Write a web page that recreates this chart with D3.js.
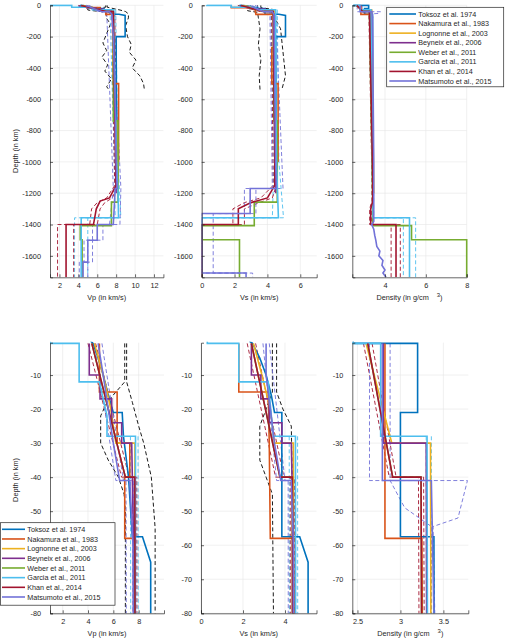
<!DOCTYPE html>
<html>
<head>
<meta charset="utf-8">
<script src="https://cdn.jsdelivr.net/npm/d3@7"></script>
<style>
body { margin: 0; background: #fff; }
svg { font-family: "Liberation Sans", Arial, sans-serif; }
</style>
</head>
<body>
<svg id="chart" width="505" height="639"></svg>
<script>
// model names + colours (legend order)
const modelNames = ["Toksoz et al. 1974", "Nakamura et al., 1983", "Lognonne et al., 2003", "Beyneix et al., 2006",
    "Weber et al., 2011", "Garcia et al., 2011", "Khan et al., 2014", "Matsumoto et al., 2015"];
const modelColors = ["#0072BD", "#D95319", "#EDB120", "#7E2F8E", "#77AC30", "#4DBEEE", "#A2142F", "#7272D8"];

// profiles as [depth (km), value]
const toksozVp = [[0,4.2],[0.7,4.4],[5,4.8],[10,5.2],[16,5.6],[21,6.0],[21,6.7],[28,6.8],[40,7.2],[57.5,7.5],[57.5,8.3],[65,8.95],[200,8.95],[200,8.0],[1000,8.05]];
const toksozVs = [[0,2.3],[0.7,2.45],[5,2.8],[10,3.1],[16,3.35],[21,3.5],[21,3.85],[57.5,3.85],[57.5,4.7],[65,5.1],[200,5.1],[200,4.5],[1000,4.55]];
const toksozRho = [[0,2.45],[0.7,2.45],[0.7,3.2],[21,3.2],[21,3.0],[57.5,3.0],[57.5,3.39],[1000,3.42]];

const nakamuraVp = [[0.7,4.9],[15,4.9],[15,6.3],[30,6.3],[30,7.3],[40,7.3],[40,6.9],[58,6.9],[58,7.7],[500,7.7],[500,8.26],[1000,8.26]];
const nakamuraVs = [[0.7,1.8],[15,1.8],[15,3.2],[30,3.25],[58,3.3],[58,4.4],[270,4.4],[270,4.27],[500,4.27],[500,4.65],[1000,4.65]];
const nakamuraRho = [[0.7,2.82],[58,2.82],[58,3.25],[500,3.35],[1000,3.42]];

const lognonneVp = [[0.7,4.5],[10,5.2],[20,5.8],[30,6.2],[30,7.7],[200,7.7],[500,7.75],[738,7.75],[738,8.1],[1200,8.2]];
const lognonneVs = [[0.7,2.5],[10,2.9],[20,3.3],[30,3.5],[30,4.4],[500,4.45],[738,4.45],[738,4.55],[1200,4.6]];
const lognonneRho = [[0.7,2.6],[30,2.9],[30,3.35],[1200,3.45]];

const beyneixVp = [[0.7,4.1],[10,4.1],[10,4.95],[17,4.95],[17,5.87],[24,5.87],[24,6.66],[30,6.66],[30,7.45],[60,7.6],[200,7.7],[500,7.85],[1200,8.0]];
const beyneixVs = [[0.7,2.4],[10,2.4],[10,2.85],[17,2.85],[17,3.25],[24,3.25],[24,3.85],[30,3.85],[30,4.3],[60,4.4],[500,4.45],[1200,4.5]];
const beyneixRho = [[0.7,2.8],[30,2.8],[30,3.3],[1200,3.42]];

const weberVp = [[0.7,4.3],[40,6.95],[40,7.7],[738,7.7],[738,8.2],[1257,8.2],[1257,7.5],[1407,7.5],[1407,4.2],[1497,4.2],[1497,4.4],[1737,4.4]];
const weberVs = [[0.7,2.4],[40,3.76],[40,4.35],[738,4.4],[738,4.6],[1257,4.6],[1257,3.2],[1407,3.2],[1407,0],[1497,0],[1497,2.3],[1737,2.3]];
const weberRho = [[0.7,2.62],[40,2.91],[40,3.24],[1257,3.4],[1407,3.4],[1407,5.3],[1497,5.3],[1497,8.0],[1737,8.0]];

const garciaVp = [[0,1.0],[0.7,1.0],[0.7,3.3],[12,3.3],[12,4.9],[22,5.5],[28,5.5],[28,7.75],[200,7.75],[500,7.85],[1000,8.05],[1200,8.2],[1357,8.25],[1357,4.3],[1737,4.3]];
const garciaVs = [[0,0.3],[0.7,0.3],[0.7,1.8],[12,1.8],[12,3.2],[22,3.35],[28,3.45],[28,4.5],[500,4.5],[1000,4.55],[1357,4.67],[1357,0],[1737,0]];
const garciaRho = [[0,2.45],[0.7,2.45],[0.7,2.77],[28,2.77],[28,3.31],[1357,3.42],[1357,5.2],[1737,5.2]];

const khanVp = [[0.7,4.3],[40,6.95],[40,7.7],[200,7.75],[500,7.8],[1000,7.95],[1150,8.0],[1230,7.3],[1250,6.3],[1300,5.9],[1400,5.6],[1400,2.7],[1737,2.7]];
const khanVs = [[0.7,2.4],[40,3.76],[40,4.35],[1000,4.45],[1150,4.45],[1230,4.0],[1260,3.0],[1300,2.23],[1400,2.23],[1400,0],[1737,0]];
const khanRho = [[0.7,2.62],[40,2.91],[40,3.24],[1100,3.4],[1250,3.4],[1300,3.3],[1400,3.3],[1400,4.54],[1737,4.54]];

const matsumotoVp = [[0.7,4.8],[10,5.2],[20,5.6],[30,6.0],[41,6.5],[41,7.3],[60,7.55],[200,7.7],[500,7.85],[1000,8.0],[1170,8.1],[1170,7.9],[1400,7.7],[1400,6.0],[1500,6.0],[1500,5.0],[1640,5.0],[1640,4.5],[1737,4.5]];
const matsumotoVs = [[0.7,3.1],[10,3.1],[20,3.3],[30,3.5],[41,3.8],[41,4.3],[60,4.4],[1000,4.5],[1170,4.55],[1170,2.95],[1330,2.95],[1330,0],[1710,0],[1710,2.7],[1737,2.7]];
const matsumotoRho = [[0.7,2.79],[41,2.79],[41,3.36],[80,3.39],[1000,3.45],[1380,3.45],[1400,3.35],[1430,3.45],[1470,3.5],[1500,3.55],[1540,3.6],[1570,3.75],[1600,3.7],[1630,3.9],[1660,3.85],[1690,4.0],[1710,3.9],[1737,4.05]];

// uncertainty bounds (dashed)
const boundsVpLo = [[0.7,6.9],[12,6.9],[18,5.5],[22,5.0],[30,5.0],[35,5.6],[40,6.4],[45,6.85],[50,6.95],[80,6.95],[120,7.4],[180,7.0],[240,6.6],[290,7.0],[330,6.5],[380,7.1],[420,6.8],[470,7.5],[520,7.0],[545,7.3]];
const boundsVpHi = [[0.7,7.05],[12,7.05],[18,7.5],[25,8.0],[30,8.4],[40,9.0],[55,9.3],[80,9.3],[130,9.0],[200,9.2],[250,9.6],[300,9.4],[350,10.1],[400,9.7],[450,10.5],[500,10.9],[545,11.0]];
const boundsVsLo = [[0.7,3.4],[15,3.4],[20,3.1],[25,2.8],[35,2.8],[40,3.1],[45,3.4],[80,3.45],[150,3.55],[250,3.45],[350,3.6],[450,3.5],[540,3.55]];
const boundsVsHi = [[0.7,3.6],[15,3.6],[20,3.9],[25,4.3],[80,4.45],[150,4.8],[250,4.9],[350,5.0],[450,5.1],[530,4.9]];

const khanVpLo = [[0.7,4.0],[40,6.65],[40,7.55],[1000,7.8],[1150,7.85],[1230,7.0],[1260,6.0],[1300,5.4],[1400,5.2],[1400,1.8],[1737,1.8]];
const khanVpHi = [[0.7,4.6],[40,7.25],[40,7.85],[1000,8.1],[1150,8.15],[1230,7.6],[1260,6.8],[1300,6.3],[1400,6.0],[1400,3.5],[1737,3.5]];
const khanVsLo = [[0.7,2.2],[40,3.55],[40,4.25],[1150,4.35],[1230,3.6],[1260,2.6],[1300,1.9],[1400,1.9],[1400,0],[1737,0]];
const khanVsHi = [[0.7,2.6],[40,3.95],[40,4.45],[1150,4.55],[1230,4.3],[1260,3.5],[1300,2.6],[1400,2.6],[1400,0],[1737,0]];
const khanRhoLo = [[0.7,2.57],[40,2.87],[40,3.21],[1100,3.36],[1250,3.36],[1300,3.25],[1400,3.25],[1400,4.3],[1737,4.3]];
const khanRhoHi = [[0.7,2.67],[40,2.95],[40,3.27],[1100,3.44],[1250,3.44],[1300,3.35],[1400,3.35],[1400,4.75],[1737,4.75]];

const garciaVpLo = [[28,7.35],[1000,7.8],[1357,7.9],[1357,3.6],[1737,3.6]];
const garciaVpHi = [[28,7.95],[1000,8.2],[1357,8.5],[1357,5.0],[1737,5.0]];
const garciaVsLo = [[28,4.2],[1000,4.4],[1357,4.3],[1357,0]];
const garciaVsHi = [[28,4.6],[1000,4.7],[1357,4.98],[1357,0]];
const garciaRhoLo = [[28,3.3],[1357,3.38],[1357,4.9],[1737,4.9]];
const garciaRhoHi = [[28,3.36],[1357,3.45],[1357,5.5],[1737,5.5]];

const matsumotoVpLo = [[0.7,4.5],[41,6.2],[41,7.0],[1170,7.7],[1400,7.3],[1400,5.5],[1500,5.5],[1500,4.6],[1640,4.6],[1640,4.1],[1737,4.1]];
const matsumotoVpHi = [[0.7,5.1],[41,6.8],[41,7.6],[1170,8.5],[1400,8.4],[1400,6.6],[1500,6.6],[1500,5.5],[1640,5.5],[1640,5.0],[1737,5.0]];
const matsumotoVsLo = [[0.7,2.95],[41,3.6],[41,4.15],[1170,4.3],[1170,2.6],[1330,2.6],[1330,0],[1710,0],[1710,2.3],[1737,2.3]];
const matsumotoVsHi = [[0.7,3.25],[41,4.0],[41,4.5],[1170,4.95],[1170,3.3],[1330,3.3],[1330,0.7],[1710,0.7],[1710,3.1],[1737,3.1]];
const matsumotoRhoA = [[0.7,2.64],[41,2.64],[41,3.78],[52,3.67],[54.5,3.38],[80,3.4]];
const matsumotoRhoB = [[0.7,2.88],[41,2.88],[49,3.05],[54.5,3.36],[80,3.36]];

// tick labels
const depthTicksFull = [0, -200, -400, -600, -800, -1000, -1200, -1400, -1600];
const depthTicksCrust = [-10, -20, -30, -40, -50, -60, -70, -80];
const vpTicksFull = [2, 4, 6, 8, 10, 12];
const vsTicksFull = [0, 2, 4, 6];
const rhoTicksFull = [4, 6, 8];
const vpTicksCrust = [2, 4, 6, 8];
const vsTicksCrust = [0, 2, 4];
const rhoTicksCrust = [2.5, 3, 3.5];

const models = [
    { vp: toksozVp, vs: toksozVs, rho: toksozRho },
    { vp: nakamuraVp, vs: nakamuraVs, rho: nakamuraRho },
    { vp: lognonneVp, vs: lognonneVs, rho: lognonneRho },
    { vp: beyneixVp, vs: beyneixVs, rho: beyneixRho },
    { vp: weberVp, vs: weberVs, rho: weberRho },
    { vp: garciaVp, vs: garciaVs, rho: garciaRho },
    { vp: khanVp, vs: khanVs, rho: khanRho },
    { vp: matsumotoVp, vs: matsumotoVs, rho: matsumotoRho }
].map((m, i) => ({ ...m, name: modelNames[i], color: modelColors[i] }));

const bounds = [
    { color: "#000", vp: [boundsVpLo, boundsVpHi], vs: [boundsVsLo, boundsVsHi], rho: [] },
    { color: modelColors[5], vp: [garciaVpLo, garciaVpHi], vs: [garciaVsLo, garciaVsHi], rho: [garciaRhoLo, garciaRhoHi] },
    { color: modelColors[6], vp: [khanVpLo, khanVpHi], vs: [khanVsLo, khanVsHi], rho: [khanRhoLo, khanRhoHi] },
    { color: modelColors[7], vp: [matsumotoVpLo, matsumotoVpHi], vs: [matsumotoVsLo, matsumotoVsHi], rho: [matsumotoRhoA, matsumotoRhoB] }
];

const textCol = "#262626";
const svg = d3.select("#chart");

const rows = [
    { y: [5.3, 277.3], depth: [-1737, 0], ticks: depthTicksFull, labelY: 151 },
    { y: [342.7, 613.3], depth: [-80, -0.5], ticks: depthTicksCrust, labelY: 480 }
];

// hideLabels: tick labels that sit under the legend box in the original
const panels = [
    { row: 0, key: "vp", x: [50, 163.4], dom: [1, 13], ticks: vpTicksFull, hideLabels: [] },
    { row: 0, key: "vs", x: [201.7, 316.7], dom: [0, 7], ticks: vsTicksFull, hideLabels: [] },
    { row: 0, key: "rho", x: [352.3, 466.7], dom: [2.4, 8], ticks: rhoTicksFull, hideLabels: [] },
    { row: 1, key: "vp", x: [50, 164], dom: [1, 10], ticks: vpTicksCrust, hideLabels: [-60, -70] },
    { row: 1, key: "vs", x: [201, 316.5], dom: [0, 5.5], ticks: vsTicksCrust, hideLabels: [] },
    { row: 1, key: "rho", x: [352.3, 468.3], dom: [2.44, 3.79], ticks: rhoTicksCrust, hideLabels: [] }
];

const defs = svg.append("defs");

panels.forEach((p, pi) => {
    const r = rows[p.row];
    const xScale = d3.scaleLinear().domain(p.dom).range(p.x);
    const yScale = d3.scaleLinear().domain(r.depth).range([r.y[1], r.y[0]]);
    const g = svg.append("g");

    // grid
    g.selectAll(".gx").data(p.ticks).join("line")
        .attr("x1", d => xScale(d)).attr("x2", d => xScale(d))
        .attr("y1", r.y[0]).attr("y2", r.y[1])
        .attr("stroke", "#e6e6e6").attr("stroke-width", 0.6);
    g.selectAll(".gy").data(r.ticks).join("line")
        .attr("x1", p.x[0]).attr("x2", p.x[1])
        .attr("y1", d => yScale(d)).attr("y2", d => yScale(d))
        .attr("stroke", "#e6e6e6").attr("stroke-width", 0.6);

    defs.append("clipPath").attr("id", "clip" + pi)
        .append("rect").attr("x", p.x[0]).attr("y", r.y[0] - 1)
        .attr("width", p.x[1] - p.x[0] + 1.5).attr("height", r.y[1] - r.y[0] + 1);

    const plot = g.append("g").attr("clip-path", `url(#clip${pi})`);
    const line = d3.line().x(d => xScale(d[1])).y(d => yScale(-d[0]));

    bounds.forEach(b => {
        b[p.key].forEach(arr => {
            plot.append("path").attr("d", line(arr))
                .attr("fill", "none").attr("stroke", b.color)
                .attr("stroke-width", 0.9).attr("stroke-dasharray", "4,2.5");
        });
    });

    models.forEach(m => {
        plot.append("path").attr("d", line(m[p.key]))
            .attr("fill", "none").attr("stroke", m.color)
            .attr("stroke-width", 1.6).attr("stroke-linejoin", "miter");
    });

    // axes
    const xAxis = d3.axisBottom(xScale).tickValues(p.ticks).tickSize(-3).tickPadding(6).tickFormat(d => String(d));
    const yAxis = d3.axisLeft(yScale).tickValues(r.ticks).tickSize(-3).tickPadding(9)
        .tickFormat(d => p.hideLabels.includes(d) ? "" : String(d));
    const ax = g.append("g").attr("transform", `translate(0,${r.y[1]})`).call(xAxis);
    const ay = g.append("g").attr("transform", `translate(${p.x[0]},0)`).call(yAxis);
    [ax, ay].forEach(a => {
        a.select(".domain").attr("stroke", textCol).attr("stroke-width", 0.7);
        a.selectAll(".tick line").attr("stroke", textCol).attr("stroke-width", 0.7);
        a.selectAll("text").attr("fill", textCol).style("font-size", "7.3px").style("font-family", "Liberation Sans, Arial, sans-serif");
    });
    ay.selectAll(".tick text").filter(function () { return this.textContent === ""; }).remove();

    // x label
    const cx = (p.x[0] + p.x[1]) / 2;
    const lab = g.append("text").attr("x", cx).attr("y", r.y[1] + 22.5)
        .attr("text-anchor", "middle").attr("fill", textCol).style("font-size", "7.3px");
    if (p.key === "vp") lab.text("Vp (in km/s)");
    else if (p.key === "vs") lab.text("Vs (in km/s)");
    else {
        lab.append("tspan").text("Density (in g/cm");
        lab.append("tspan").attr("dx", 8).attr("dy", -3).style("font-size", "6px").text("3");
        lab.append("tspan").attr("dy", 3).text(")");
    }

    if (p.key === "vp") {
        g.append("text").attr("transform", `translate(18,${r.labelY}) rotate(-90)`)
            .attr("text-anchor", "middle").attr("fill", textCol).style("font-size", "7.3px")
            .text("Depth (in km)");
    }
});

// legends
const drawLegend = (x0, y0, w, h, firstRow, step, lx0, lx1, tx) => {
    const lg = svg.append("g");
    lg.append("rect").attr("x", x0).attr("y", y0).attr("width", w).attr("height", h)
        .attr("fill", "#fff").attr("stroke", textCol).attr("stroke-width", 0.7);
    const item = lg.selectAll("g.item").data(models).join("g")
        .attr("transform", (d, i) => `translate(0,${firstRow + i * step})`);
    item.append("line").attr("x1", lx0).attr("x2", lx1)
        .attr("stroke", d => d.color).attr("stroke-width", 1.6);
    item.append("text").attr("x", tx).attr("dy", "0.35em")
        .attr("fill", textCol).style("font-size", "7.2px").text(d => d.name);
};
drawLegend(386.7, 7.3, 117, 79.5, 14, 9.57, 389.3, 416, 418.3);
drawLegend(0.5, 522.7, 114.5, 82.5, 529.3, 9.67, 2, 25, 27.3);
</script>
</body>
</html>
